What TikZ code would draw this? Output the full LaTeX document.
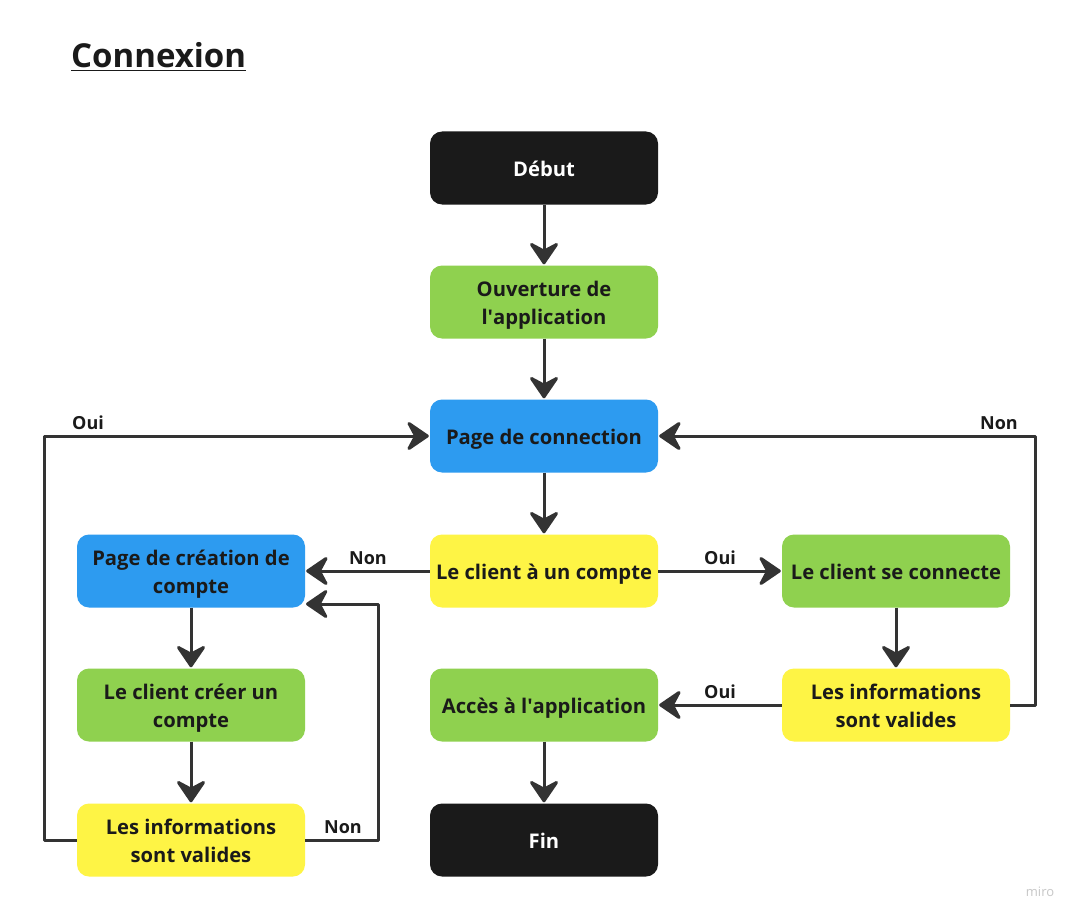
\documentclass[tikz,border=0pt]{standalone}
\usepackage{fontspec}
\setmainfont{Open Sans}
\usetikzlibrary{arrows.meta}
\definecolor{cblack}{HTML}{1A1A1A}
\definecolor{cgreen}{HTML}{8FD14F}
\definecolor{cblue}{HTML}{2D9BF0}
\definecolor{cyellow}{HTML}{FEF445}
\definecolor{cline}{HTML}{333333}
\definecolor{ctext}{HTML}{1A1A1A}
\begin{document}
\begin{tikzpicture}[x=1pt,y=-1pt,
  box/.style={rounded corners=12pt, minimum width=228pt, minimum height=73pt, inner sep=0pt,
    align=center, font=\fontsize{20.2}{28}\selectfont\bfseries, text=ctext,
    execute at begin node={\rule{0pt}{24pt}},
    execute at end node={\rule[-7pt]{0pt}{7pt}}},
  two/.style={execute at begin node={\rule{0pt}{52pt}}},
  startend/.style={box, fill=cblack, text=white},
  proc/.style={box, fill=cgreen},
  page/.style={box, fill=cblue},
  decision/.style={box, fill=cyellow},
  conn/.style={draw=cline, line width=3pt, line join=round,
    -{Stealth[length=25pt, width=34pt, inset=9pt, round]}, shorten >=1pt},
  lbl/.style={font=\fontsize{18}{20}\selectfont\bfseries, text=ctext, inner sep=0pt}
]
\useasboundingbox (0,0) rectangle (1082,923);
\fill[white] (0,0) rectangle (1082,923);

\node[anchor=base west, inner sep=0pt, font=\fontsize{33}{40}\selectfont\bfseries, text=ctext] (title) at (71,68) {\underline{Connexion}};

\node[startend] (debut) at (544,168) {Début};
\node[proc, two] (ouv) at (544,302) {Ouverture de\\l\textquotesingle application};
\node[page] (pconn) at (544,436) {Page de connection};
\node[decision] (compte) at (544,571) {Le client à un compte};
\node[page, two] (pcreat) at (191,571) {Page de création de\\compte};
\node[proc] (seconn) at (896,571) {Le client se connecte};
\node[proc, two] (creer) at (191,705) {Le client créer un\\compte};
\node[decision, two] (infor) at (896,705) {Les informations\\sont valides};
\node[proc] (acces) at (544,705) {Accès à l\textquotesingle application};
\node[decision, two] (infol) at (191,840) {Les informations\\sont valides};
\node[startend] (fin) at (544,840) {Fin};

\coordinate (rtop) at (1035,436);
\coordinate (rbot) at (1035,705);
\coordinate (ltop) at (44,436);
\coordinate (lbot) at (44,840);
\coordinate (mbot) at (378,840);
\coordinate (mtop) at (378,604);
\coordinate (pcreatin) at (305,604);

\draw[conn] (debut) -- (ouv);
\draw[conn] (ouv) -- (pconn);
\draw[conn] (pconn) -- (compte);
\draw[conn] (compte) -- (pcreat);
\draw[conn] (compte) -- (seconn);
\draw[conn] (seconn) -- (infor);
\draw[conn] (infor) -- (acces);
\draw[conn] (acces) -- (fin);
\draw[conn] (pcreat) -- (creer);
\draw[conn] (creer) -- (infol);
\draw[conn] (infor.east) -- (rbot) -- (rtop) -- (pconn.east);
\draw[conn] (infol.west) -- (lbot) -- (ltop) -- (pconn.west);
\draw[conn] (infol.east) -- (mbot) -- (mtop) -- (pcreatin);

\node[lbl] (l1) at (368,558) {Non};
\node[lbl] (l2) at (720,558) {Oui};
\node[lbl] (l3) at (720,692) {Oui};
\node[lbl] (l4) at (999,423) {Non};
\node[lbl] (l5) at (88,423) {Oui};
\node[lbl] (l6) at (343,827) {Non};

\node[font=\fontsize{13}{14}\selectfont, text=black!22, inner sep=0pt] (miro) at (1040,892) {miro};
\end{tikzpicture}
\end{document}
